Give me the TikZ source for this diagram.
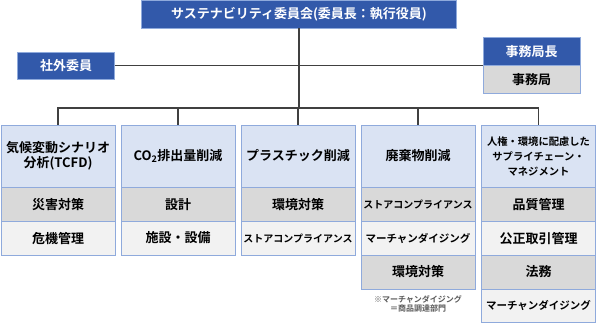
\documentclass[tikz,border=0pt]{standalone}
\usepackage{fontspec}
\setmainfont{Noto Sans CJK JP}[BoldFont={Noto Sans CJK JP Bold}]
\usetikzlibrary{positioning}
\definecolor{topblue}{RGB}{50,89,170}
\definecolor{edgeblue}{RGB}{143,170,220}
\definecolor{hdrblue}{RGB}{218,227,243}
\definecolor{graya}{RGB}{217,217,217}
\definecolor{grayb}{RGB}{242,242,242}
\definecolor{linegray}{RGB}{64,64,64}
\definecolor{notegray}{RGB}{89,89,89}
\tikzset{
  topbox/.style={draw=edgeblue, fill=topblue, text=white, inner sep=0pt, font=\bfseries\fontsize{13}{15}\selectfont},
  hdr/.style={draw=edgeblue, fill=hdrblue, minimum width=114pt, minimum height=62pt, inner sep=0pt, align=center, font=\bfseries\fontsize{13}{15}\selectfont},
  itema/.style={draw=edgeblue, fill=graya, minimum width=114pt, minimum height=33.5pt, inner sep=0pt, font=\bfseries\fontsize{13}{15}\selectfont},
  itemb/.style={itema, fill=grayb},
  kana/.style={font=\bfseries\fontsize{10}{12}\selectfont},
  merch/.style={font=\bfseries\fontsize{10.5}{12}\selectfont},
  note/.style={inner sep=0pt, align=center, text=notegray, font=\bfseries\fontsize{8}{9.5}\selectfont},
  link/.style={draw=linegray, line width=1.2pt},
}
\begin{document}
\begin{tikzpicture}[x=1pt, y=1pt]
  \useasboundingbox (0,0) rectangle (597,-323);
  \coordinate (bus) at (0,-108);
  \node[topbox, minimum width=315pt, minimum height=28pt] (board) at (299,-14) {サステナビリティ委員会(委員長：執行役員)};
  \node[topbox, minimum width=97pt, minimum height=27.5pt] (outside) at (66,-65.5) {社外委員};
  \node[topbox, minimum width=97pt, minimum height=27.3pt] (secchief) at (531.5,-51.3) {事務局長};
  \node[itema, minimum width=97pt, minimum height=28pt, below=0pt of secchief] (secoffice) {事務局};

  \node[hdr] (climate) at (58,-156) {気候変動シナリオ\\分析(TCFD)};
  \node[itema, below=0pt of climate] (climate1) {災害対策};
  \node[itemb, below=0pt of climate1] (climate2) {危機管理};

  \node[hdr] (carbon) at (178,-156) {CO\textsubscript{2}排出量削減};
  \node[itema, below=0pt of carbon] (carbon1) {設計};
  \node[itemb, below=0pt of carbon1] (carbon2) {施設・設備};

  \node[hdr] (plastic) at (298,-156) {プラスチック削減};
  \node[itema, below=0pt of plastic] (plastic1) {環境対策};
  \node[itemb, kana, below=0pt of plastic1] (plastic2) {ストアコンプライアンス};

  \node[hdr] (waste) at (418,-156) {廃棄物削減};
  \node[itema, kana, below=0pt of waste] (waste1) {ストアコンプライアンス};
  \node[itemb, merch, below=0pt of waste1] (waste2) {マーチャンダイジング};
  \node[itema, below=0pt of waste2] (waste3) {環境対策};
  \node[note, below=6pt of waste3] (wastenote) {※マーチャンダイジング\\＝商品調達部門};

  \node[hdr, font=\bfseries\fontsize{10.3}{15}\selectfont] (supply) at (538.5,-156) {人権・環境に配慮した\\サプライチェーン・\\マネジメント};
  \node[itema, below=0pt of supply] (supply1) {品質管理};
  \node[itemb, below=0pt of supply1] (supply2) {公正取引管理};
  \node[itema, below=0pt of supply2] (supply3) {法務};
  \node[itemb, merch, below=0pt of supply3] (supply4) {マーチャンダイジング};

  \draw[link] (board.south) -- (board.south |- bus);
  \draw[link] (outside.east) -- (outside.east -| secchief.west);
  \draw[link] (climate.north) |- (supply.north |- bus) -- (supply.north);
  \foreach \col in {carbon,plastic,waste}
    \draw[link] (\col.north) -- (\col.north |- bus);
\end{tikzpicture}
\end{document}
